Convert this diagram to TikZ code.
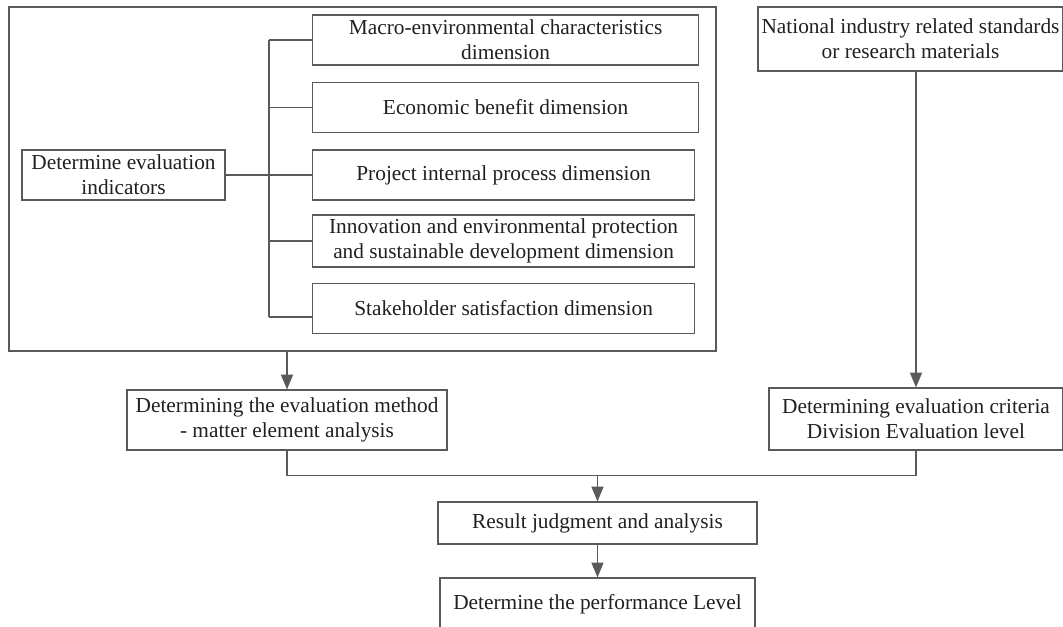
\documentclass[tikz,border=0pt]{standalone}
\usepackage{fontspec}
\setmainfont{Liberation Serif}
\usepackage{tikz}
\usetikzlibrary{arrows.meta,positioning,calc}
\definecolor{linegray}{HTML}{5A5A5A}
\definecolor{textblack}{HTML}{231F20}

\begin{document}
\begin{tikzpicture}[
    x=0.75pt, y=-0.75pt,
    box/.style={draw=linegray, line width=0.9pt, minimum width=384*0.75pt, minimum height=50*0.75pt, align=center, inner sep=1pt, text=textblack, font=\rmfamily\fontsize{16}{19}\selectfont},
    frame/.style={draw=linegray, line width=0.9pt, inner sep=0pt},
    arr/.style={-{Triangle[length=11pt, width=9pt]}, draw=linegray, fill=linegray, line width=0.9pt},
    lnk/.style={draw=linegray, line width=0.9pt}
]
\useasboundingbox (0,0) rectangle (1063,626);
\node[frame, minimum width=707*0.75pt, minimum height=344*0.75pt] (outer) at (362.5,179) {};
\node[box, minimum width=203*0.75pt] (ind) at (123.5,175) {Determine evaluation\\indicators};
\node[box, anchor=west, minimum width=386*0.75pt] (macro) at (312,40) {Macro-environmental characteristics\\dimension};
\node[box, anchor=west, minimum width=386*0.75pt] (econ) at (312,107.5) {Economic benefit dimension};
\node[box, anchor=west, minimum width=382*0.75pt] (proj) at (312,175) {Project internal process dimension};
\node[box, anchor=west, minimum width=382*0.75pt, minimum height=52*0.75pt] (innov) at (312,241) {Innovation and environmental protection\\and sustainable development dimension};
\node[box, anchor=west, minimum width=382*0.75pt] (stake) at (312,308.5) {Stakeholder satisfaction dimension};
\node[box, minimum width=305*0.75pt, minimum height=64*0.75pt] (nat) at (910.5,39) {National industry related standards\\or research materials};
\node[box, minimum width=320*0.75pt, minimum height=60*0.75pt] (method) at (287,420) {Determining the evaluation method\\- matter element analysis};
\node[box, minimum width=294*0.75pt, minimum height=62*0.75pt] (crit) at (916,419) {Determining evaluation criteria\\Division Evaluation level};
\node[box, minimum width=319*0.75pt, minimum height=42*0.75pt] (result) at (597.5,523) {Result judgment and analysis};
\node[box, minimum width=315*0.75pt, minimum height=52*0.75pt] (level) at (597.5,604) {Determine the performance Level};

% tree of dimensions
\coordinate (trunk) at (269,175);
\coordinate (stakein) at ($(stake.west)+(0,8.5)$);
\draw[lnk] (ind.east) -- (proj.west);
\draw[lnk] (trunk |- macro.west) -- (trunk |- stakein);
\foreach \d in {macro.west,econ.west,innov.west,stakein}
    \draw[lnk] (trunk |- \d) -- (\d);

% flow
\draw[arr] (outer.south -| method.north) -- (method.north);
\draw[arr] (nat.south -| crit.north) -- (crit.north);
\coordinate (merge) at ($(method.south)+(0,25)$);
\draw[lnk] (method.south) -- (merge) -| (crit.south);
\draw[arr] (merge -| result.north) -- (result.north);
\draw[arr] (result.south) -- (level.north);
\end{tikzpicture}
\end{document}
